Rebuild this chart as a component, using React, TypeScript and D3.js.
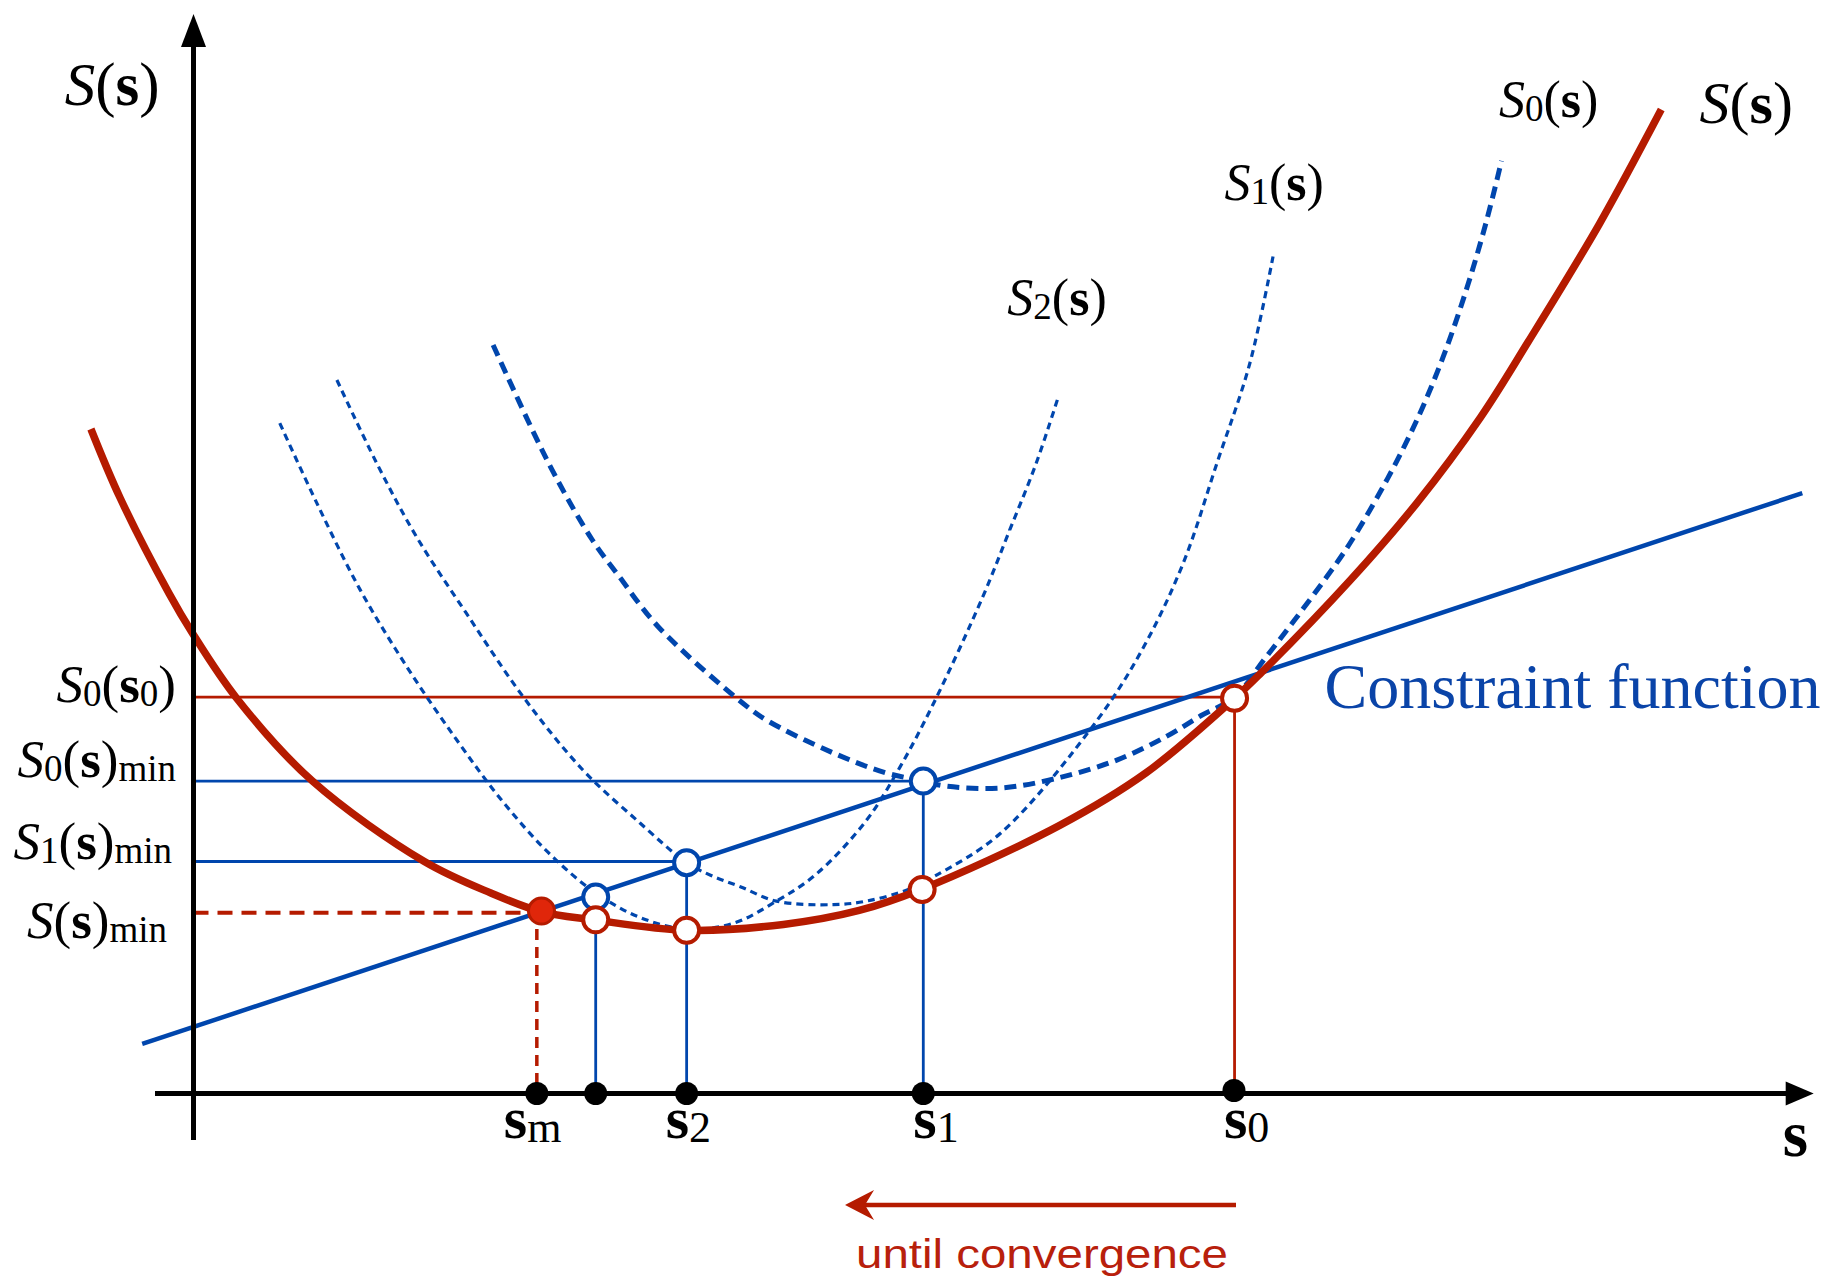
import React from 'react';
import * as d3 from 'd3';

// ---- Data, in diagram units (s along the x axis, S along the y axis) ----
const sCurve: [number, number][] = [
  [-0.88, 5.70], [-0.63, 5.11], [-0.21, 4.29], [-0.01, 3.95], [0.37, 3.39], [1.02, 2.68],
  [1.98, 1.99], [2.55, 1.72], [2.98, 1.56], [3.43, 1.49], [4.23, 1.40], [5.06, 1.45],
  [5.71, 1.57], [6.24, 1.75], [7.43, 2.30], [8.17, 2.75], [8.93, 3.39], [9.15, 3.60],
  [9.92, 4.40], [10.49, 5.06], [11.04, 5.80], [11.45, 6.45], [12.06, 7.46], [12.59, 8.44],
];
const s0Curve: [number, number][] = [
  [2.57, 6.42], [3.06, 5.38], [3.42, 4.75], [3.64, 4.45], [3.99, 4.00], [4.71, 3.35],
  [4.92, 3.20], [5.49, 2.92], [5.94, 2.75], [6.26, 2.68], [6.43, 2.64], [6.92, 2.62],
  [7.43, 2.71], [7.92, 2.86], [8.34, 3.06], [8.64, 3.24], [8.93, 3.40], [9.19, 3.73],
  [9.44, 4.055], [9.69, 4.39], [9.92, 4.72], [10.24, 5.27], [10.50, 5.79], [10.72, 6.32],
  [10.92, 6.90], [11.09, 7.48], [11.22, 8.00],
];
const s1Curve: [number, number][] = [
  [1.23, 6.12], [1.57, 5.41], [1.91, 4.78], [2.34, 4.12], [2.83, 3.40], [3.34, 2.775],
  [3.83, 2.32], [4.23, 1.98], [4.44, 1.87], [4.69, 1.774], [5.00, 1.65], [5.49, 1.62],
  [5.77, 1.65], [6.12, 1.746], [6.35, 1.86], [6.92, 2.23], [7.75, 3.20], [8.15, 3.83],
  [8.49, 4.55], [8.78, 5.41], [9.06, 6.26], [9.26, 7.18],
];
const s2Curve: [number, number][] = [
  [0.74, 5.75], [1.06, 5.06], [1.43, 4.32], [1.83, 3.66], [2.26, 3.03], [2.64, 2.52],
  [3.04, 2.07], [3.45, 1.72], [3.83, 1.51], [4.23, 1.41], [4.63, 1.46], [5.00, 1.65],
  [5.34, 1.88], [5.77, 2.34], [6.06, 2.80], [6.34, 3.33], [6.77, 4.26], [7.00, 4.83],
  [7.23, 5.41], [7.41, 5.95],
];
const constraintLine: [number, number][] = [[-0.44, 0.425], [13.8, 5.15]];

// iterates on the s axis: sm, (s3), s2, s1, s0
const axisDots = [2.945, 3.45, 4.23, 6.26, 8.925];
const axisLabelSubs = ['m', '2', '1', '0'];
const axisLabelPos = [2.945, 4.23, 6.26, 8.925];

// open circles on the constraint line
const constraintPts: [number, number][] = [[3.45, 1.685], [4.23, 1.98], [6.26, 2.68]];
// open circles on S(s)
const curvePts: [number, number][] = [[3.45, 1.49], [4.23, 1.40], [6.25, 1.75], [8.93, 3.39]];
// constrained minimum (filled)
const minPt: [number, number] = [2.985, 1.565];

// horizontal levels: S0(s0), S0(s)min, S1(s)min, S(s)min  with the s where each ends
const levelValues = [3.40, 2.68, 1.99, 1.551];
const levelEnds = [8.925, 6.26, 4.23, 2.945];

const RED = '#b51b00';
const BLUE = '#0046ad';
const SERIF = '"Liberation Serif", "Times New Roman", serif';

type Part = { t: string; k: 'i' | 'b' | 'r' | 'sub' };

function MathText(props: { x: number; y: number; parts: Part[]; fs: number; subFs: number; anchor?: string; drop?: number }) {
  const { x, y, parts, fs, subFs, anchor = 'start', drop = 4 } = props;
  let shifted = false;
  const spans = parts.map((p, i) => {
    let dy: number | undefined;
    if (p.k === 'sub' && !shifted) { dy = drop; shifted = true; }
    else if (p.k !== 'sub' && shifted) { dy = -drop; shifted = false; }
    return (
      <tspan key={i} dy={dy}
        fontStyle={p.k === 'i' ? 'italic' : 'normal'}
        fontWeight={p.k === 'b' ? 'bold' : 'normal'}
        fontSize={p.k === 'sub' ? subFs : fs}>{p.t}</tspan>
    );
  });
  return <text x={x} y={y} textAnchor={anchor as any} fontFamily={SERIF} fill="#000">{spans}</text>;
}

const Ss = (sub?: string): Part[] => {
  const a: Part[] = [{ t: 'S', k: 'i' }];
  if (sub) a.push({ t: sub, k: 'sub' });
  a.push({ t: '(', k: 'r' }, { t: 's', k: 'b' }, { t: ')', k: 'r' });
  return a;
};

export default function App() {
  const x = d3.scaleLinear().domain([0, 10]).range([193.5, 193.5 + 1165.8]);
  const y = d3.scaleLinear().domain([0, 10]).range([1093.5, 1093.5 - 1165.8]);
  const line = d3.line<[number, number]>().x(d => x(d[0])).y(d => y(d[1])).curve(d3.curveCatmullRom.alpha(0.5));
  const straight = d3.line<[number, number]>().x(d => x(d[0])).y(d => y(d[1]));

  const x0 = x(0), y0 = y(0);
  const yTop = 14, xRight = 1813.7;

  const leftLabels: { parts: Part[]; xr: number; dy: number }[] = [
    { parts: [{ t: 'S', k: 'i' }, { t: '0', k: 'sub' }, { t: '(', k: 'r' }, { t: 's', k: 'b' }, { t: '0', k: 'sub' }, { t: ')', k: 'r' }], xr: 176, dy: 5 },
    { parts: [...Ss('0'), { t: 'min', k: 'sub' }], xr: 176, dy: -4.3 },
    { parts: [...Ss('1'), { t: 'min', k: 'sub' }], xr: 172, dy: -2.7 },
    { parts: [...Ss(), { t: 'min', k: 'sub' }], xr: 167, dy: 25.6 },
  ];
  const axisLabelDx = [-33, -21, -10, -10];

  return (
    <svg width={1828} height={1280} style={{ position: 'absolute', left: 0, top: 0, background: '#fff' }}>
      <rect width={1828} height={1280} fill="#fff" />

      {/* horizontal level lines */}
      {levelValues.map((v, i) => (
        <line key={'h' + i} x1={x0} x2={x(levelEnds[i])} y1={y(v)} y2={y(v)}
          stroke={i === 0 || i === 3 ? RED : BLUE}
          strokeWidth={i === 3 ? 4 : 2.8}
          strokeDasharray={i === 3 ? '15 9' : undefined} />
      ))}

      {/* vertical drop lines */}
      <line x1={x(axisDots[0])} x2={x(axisDots[0])} y1={y(minPt[1])} y2={y0} stroke={RED} strokeWidth={3.5} strokeDasharray="11 7" />
      {constraintPts.map((p, i) => (
        <line key={'v' + i} x1={x(p[0])} x2={x(p[0])} y1={y(p[1])} y2={y0} stroke={BLUE} strokeWidth={2.8} />
      ))}
      <line x1={x(curvePts[3][0])} x2={x(curvePts[3][0])} y1={y(curvePts[3][1])} y2={y0} stroke={RED} strokeWidth={2.8} />

      {/* majorizing curves */}
      <path d={line(s2Curve) || ''} fill="none" stroke={BLUE} strokeWidth={3.2} strokeDasharray="7 5" />
      <path d={line(s1Curve) || ''} fill="none" stroke={BLUE} strokeWidth={3.2} strokeDasharray="7 5" />
      <path d={line(s0Curve) || ''} fill="none" stroke={BLUE} strokeWidth={5} strokeDasharray="12 7" />

      {/* constraint line */}
      <path d={straight(constraintLine) || ''} fill="none" stroke={BLUE} strokeWidth={4.5} />

      {/* objective S(s) */}
      <path d={line(sCurve) || ''} fill="none" stroke={RED} strokeWidth={7.5} />

      {/* axes */}
      <line x1={155} x2={1788} y1={y0} y2={y0} stroke="#000" strokeWidth={5} />
      <path d={`M${xRight},${y0} L${xRight - 28},${y0 - 12} L${xRight - 28},${y0 + 12} Z`} fill="#000" />
      <line x1={x0} x2={x0} y1={1140} y2={yTop + 30} stroke="#000" strokeWidth={5} />
      <path d={`M${x0},${yTop} L${x0 - 12.5},${yTop + 33} L${x0 + 12.5},${yTop + 33} Z`} fill="#000" />

      {/* axis dots */}
      {axisDots.map((s, i) => (
        <circle key={'d' + i} cx={x(s)} cy={y0 - (i === 4 ? 3 : 0)} r={11.5} fill="#000" />
      ))}

      {/* circles */}
      {constraintPts.map((p, i) => (
        <circle key={'cb' + i} cx={x(p[0])} cy={y(p[1])} r={12.5} fill="#fff" stroke={BLUE} strokeWidth={4} />
      ))}
      {curvePts.map((p, i) => (
        <circle key={'cr' + i} cx={x(p[0])} cy={y(p[1])} r={12.5} fill="#fff" stroke={RED} strokeWidth={4} />
      ))}
      <circle cx={x(minPt[0])} cy={y(minPt[1])} r={13} fill="#e0260a" stroke={RED} strokeWidth={3} />

      {/* curve labels */}
      <MathText x={64.7} y={105} parts={Ss()} fs={61} subFs={42} />
      <MathText x={1699.6} y={122.7} parts={Ss()} fs={60} subFs={42} />
      <MathText x={1499} y={116.7} parts={Ss('0')} fs={52} subFs={37} />
      <MathText x={1224.4} y={200} parts={Ss('1')} fs={52} subFs={37} />
      <MathText x={1007.3} y={315} parts={Ss('2')} fs={52} subFs={37} />

      {/* level labels */}
      {leftLabels.map((l, i) => (
        <MathText key={'l' + i} x={l.xr} y={y(levelValues[i]) + l.dy} parts={l.parts} fs={53} subFs={37} anchor="end" />
      ))}

      {/* s-axis labels */}
      {axisLabelPos.map((s, i) => (
        <MathText key={'a' + i} x={x(s) + axisLabelDx[i]} y={1138} parts={[{ t: 's', k: 'b' }, { t: axisLabelSubs[i], k: 'sub' }]} fs={60} subFs={44} />
      ))}
      <text x={1782.7} y={1156} fontFamily={SERIF} fontWeight="bold" fontSize={65} fill="#000">s</text>

      {/* constraint label */}
      <text x={1324.5} y={708} fontFamily={SERIF} fontSize={64} fill="#0a44a8">Constraint function</text>

      {/* convergence arrow */}
      <line x1={1236} x2={862} y1={1205} y2={1205} stroke={RED} strokeWidth={4.5} />
      <path d="M846.7,1205 L872,1192 L864,1205 L872,1218 Z" fill={RED} stroke={RED} strokeWidth={1.5} strokeLinejoin="miter" />
      <text x={856} y={1268} fontFamily='"Liberation Sans", Arial, sans-serif' fontSize={40} fill="#b8200c"
        textLength={372} lengthAdjust="spacingAndGlyphs">until convergence</text>
    </svg>
  );
}
